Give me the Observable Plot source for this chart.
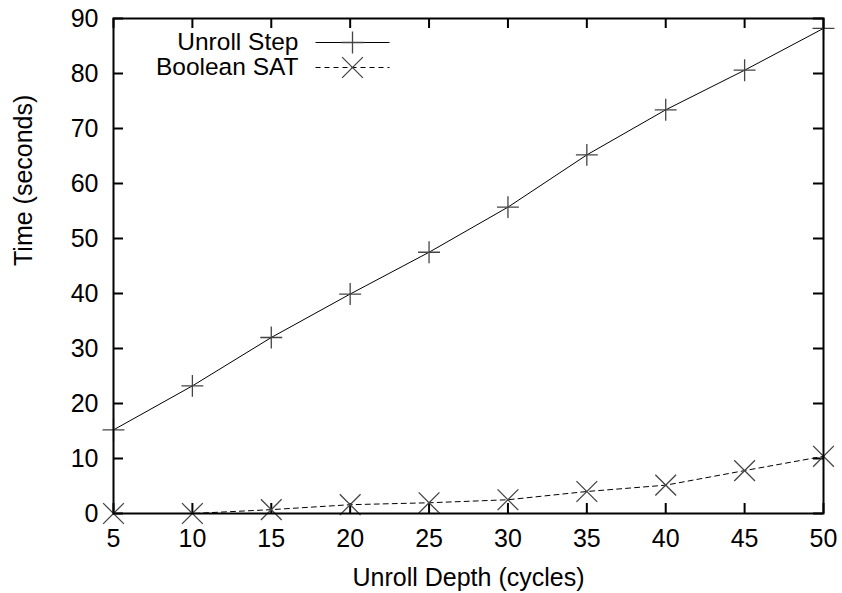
<!DOCTYPE html>
<html><head><meta charset="utf-8">
<script src="https://cdn.jsdelivr.net/npm/d3@7"></script>
<script src="https://cdn.jsdelivr.net/npm/@observablehq/plot@0.6"></script>
<style>body{margin:0;background:#fff}</style>
</head><body><div id="chart"></div>
<script>
const depth = [5, 10, 15, 20, 25, 30, 35, 40, 45, 50];
const unrollStep = [15.2, 23.2, 32.0, 39.9, 47.5, 55.7, 65.2, 73.4, 80.6, 88.2];
const booleanSat = [0, 0, 0.7, 1.6, 1.95, 2.5, 4.0, 5.15, 7.8, 10.4];
const seriesNames = ["Unroll Step", "Boolean SAT"];
const xTicks = [5, 10, 15, 20, 25, 30, 35, 40, 45, 50];
const yTicks = [0, 10, 20, 30, 40, 50, 60, 70, 80, 90];
const xTitle = "Unroll Depth (cycles)";
const yTitle = "Time (seconds)";

const rows = vals => depth.map((d, i) => ({depth: d, time: vals[i]}));
const stepRows = rows(unrollStep);
const satRows = rows(booleanSat);

const W = 842, H = 593, mL = 113, mR = 19, mT = 18, mB = 80;
const innerW = W - mL - mR, innerH = H - mT - mB;
const tickLen = 10;
const lineSym = {draw(ctx) { ctx.moveTo(-37, 0); ctx.lineTo(37, 0); }};
const markerStroke = "#444";

const chart = Plot.plot({
  width: W, height: H,
  marginLeft: mL, marginRight: mR, marginTop: mT, marginBottom: mB,
  style: {fontFamily: "'Liberation Sans', Arial, Helvetica, sans-serif", fontSize: "25px", color: "#000", background: "#fff"},
  x: {domain: [5, 50]},
  y: {domain: [0, 90]},
  marks: [
    Plot.axisX(xTicks, {tickSize: 0, tickPadding: 16, label: null}),
    Plot.axisY(yTicks, {tickSize: 0, tickPadding: 15, label: null}),
    Plot.tickX(xTicks, {x: d => d, insetTop: innerH - tickLen, strokeWidth: 2, stroke: "#000"}),
    Plot.tickX(xTicks, {x: d => d, insetBottom: innerH - tickLen, strokeWidth: 2, stroke: "#000"}),
    Plot.tickY(yTicks, {y: d => d, insetRight: innerW - tickLen, strokeWidth: 2, stroke: "#000"}),
    Plot.tickY(yTicks, {y: d => d, insetLeft: innerW - tickLen, strokeWidth: 2, stroke: "#000"}),
    Plot.line(stepRows, {x: "depth", y: "time", stroke: "#000", strokeWidth: 1}),
    Plot.line(satRows, {x: "depth", y: "time", stroke: "#000", strokeWidth: 1, strokeDasharray: "5,4"}),
    Plot.dot(stepRows, {x: "depth", y: "time", symbol: "plus", r: 7.1, fill: "none", stroke: markerStroke, strokeWidth: 1.3}),
    Plot.dot(satRows, {x: "depth", y: "time", symbol: "times", r: 9.5, fill: "none", stroke: markerStroke, strokeWidth: 1.3}),
    Plot.frame({stroke: "#000", strokeWidth: 2}),
    // legend
    Plot.text([seriesNames[0]], {frameAnchor: "top-left", lineAnchor: "middle", dx: 185, dy: 24, textAnchor: "end", fontSize: 24.5}),
    Plot.text([seriesNames[1]], {frameAnchor: "top-left", lineAnchor: "middle", dx: 185, dy: 49, textAnchor: "end", fontSize: 24.5}),
    Plot.dot([seriesNames[0]], {x: null, y: null, frameAnchor: "top-left", dx: 239, dy: 24, symbol: lineSym, r: 5, fill: "none", stroke: "#000", strokeWidth: 1}),
    Plot.dot([seriesNames[1]], {x: null, y: null, frameAnchor: "top-left", dx: 239, dy: 49, symbol: lineSym, r: 5, fill: "none", stroke: "#000", strokeWidth: 1, strokeDasharray: "5,4"}),
    Plot.dot([seriesNames[0]], {x: null, y: null, frameAnchor: "top-left", dx: 239, dy: 24, symbol: "plus", r: 7.1, fill: "none", stroke: markerStroke, strokeWidth: 1.3}),
    Plot.dot([seriesNames[1]], {x: null, y: null, frameAnchor: "top-left", dx: 239, dy: 49, symbol: "times", r: 9.5, fill: "none", stroke: markerStroke, strokeWidth: 1.3}),
    // axis titles
    Plot.text([yTitle], {frameAnchor: "left", lineAnchor: "middle", dx: -90, rotate: -90}),
    Plot.text([xTitle], {frameAnchor: "bottom", lineAnchor: "middle", dy: 64})
  ]
});
document.getElementById("chart").appendChild(chart);
</script>
</body></html>
